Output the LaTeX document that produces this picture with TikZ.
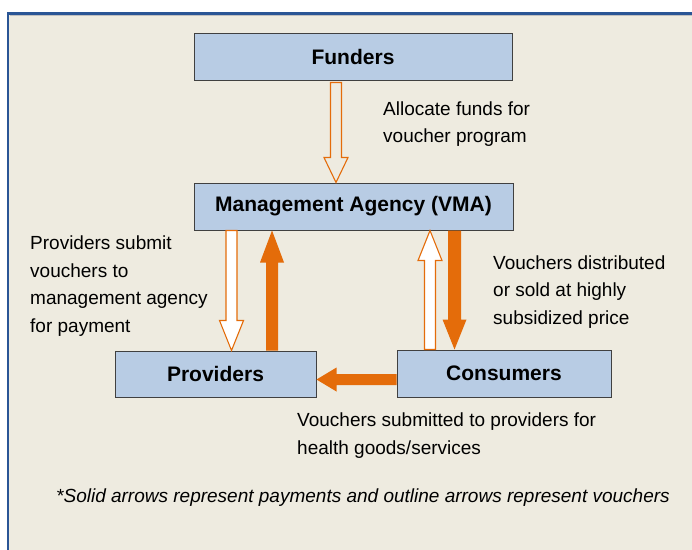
\documentclass[tikz,border=0pt]{standalone}
\usepackage{fontspec}
\setmainfont{Liberation Sans}
\usetikzlibrary{calc}
\definecolor{bg}{HTML}{EEEBE0}
\definecolor{frameblue}{HTML}{2A5595}
\definecolor{boxfill}{HTML}{B8CCE4}
\definecolor{boxline}{HTML}{404040}
\definecolor{org}{HTML}{E46C0A}
% #1 style, #2 start, #3 end, #4 shaft half width, #5 head half width, #6 head length
\newcommand\blockarrow[6]{%
  \path[#1] let \p1=#2, \p2=#3,
    \n1={atan2(\y2-\y1,\x2-\x1)}, \n2={veclen(\x2-\x1,\y2-\y1)} in
    [shift={(\p1)}, rotate=\n1]
    (0pt,-#4pt) -- (\n2*1pt-#6pt,-#4pt) -- (\n2*1pt-#6pt,-#5pt) -- (\n2*1pt,0pt)
    -- (\n2*1pt-#6pt,#5pt) -- (\n2*1pt-#6pt,#4pt) -- (0pt,#4pt) -- cycle;}
\begin{document}
\begin{tikzpicture}[x=1pt,y=-1pt,
  box/.style={draw=boxline, line width=1pt, fill=boxfill, minimum height=47pt,
    inner sep=0pt, font=\fontsize{21}{25}\selectfont\bfseries},
  txt/.style={anchor=west, align=left, inner sep=0pt,
    font=\fontsize{19}{27.5}\selectfont},
  solidarr/.style={fill=org},
  outlinearr/.style={draw=org, line width=1.1pt, fill=white},
  outlinebg/.style={draw=org, line width=1.1pt, fill=bg}]
\useasboundingbox (0,0) rectangle (692,549);
\clip (0,0) rectangle (692,549);
\fill[white] (0,0) rectangle (692,549);
\draw[frameblue, line width=2.5pt, fill=bg] (8,13.5) rectangle (730,590);
\draw[gray!50, line width=0.6pt] (9.5,15.6) -- (692,15.6);

\node[box, minimum width=318pt] (funders) at (353,56.5) {Funders};
\node[box, minimum width=319pt] (vma) at (353.5,206.5) {Management Agency (VMA)};
\node[box, minimum width=201pt, minimum height=46pt] (providers) at (215.5,374) {Providers};
\node[box, minimum width=214pt] (consumers) at (504,373.5) {Consumers};

\coordinate (a1) at ($(funders.south)+(-17,2)$);
\coordinate (a2) at ($(providers.north)+(16,0)$);
\coordinate (a3) at ($(providers.north)+(56.5,0)$);
\coordinate (a4) at ($(consumers.north)+(-74,0)$);
\coordinate (a5) at ($(consumers.north)+(-49.5,0)$);
\coordinate (a6) at ($(consumers.west)+(0,6)$);

\blockarrow{outlinebg}{(a1)}{(a1 |- vma.north)}{5.5}{12}{25}
\blockarrow{outlinearr}{(a2 |- vma.south)}{(a2)}{5.5}{12}{30}
\blockarrow{solidarr}{(a3)}{(a3 |- vma.south)}{6}{12}{32}
\blockarrow{outlinearr}{(a4)}{(a4 |- vma.south)}{5.5}{12}{30}
\blockarrow{solidarr}{(a5 |- vma.south)}{(a5)}{6.5}{12}{30}
\blockarrow{solidarr}{(a6)}{(a6 -| providers.east)}{5.5}{12}{20}

\node[txt] (t1) at (383,124) {Allocate funds for\\voucher program};
\node[txt] (t2) at (30,286) {Providers submit\\vouchers to\\management agency\\for payment};
\node[txt] (t3) at (493,292) {Vouchers distributed\\or sold at highly\\subsidized price};
\node[txt] (t4) at (297,435.5) {Vouchers submitted to providers for\\health goods/services};
\node[inner sep=0pt, font=\fontsize{19}{23}\selectfont\itshape] (note) at (363,497.5)
  {*Solid arrows represent payments and outline arrows represent vouchers};
\end{tikzpicture}
\end{document}
